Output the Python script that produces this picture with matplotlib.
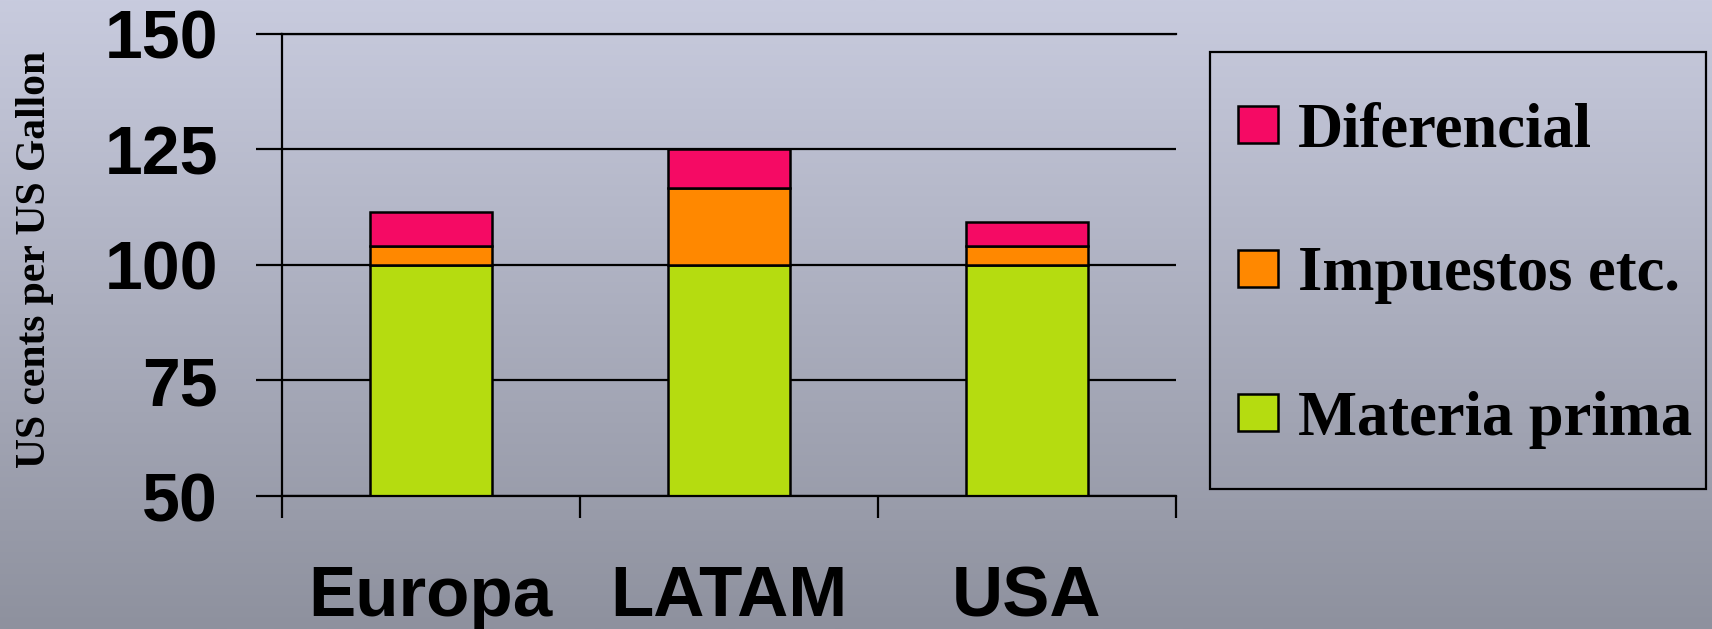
import numpy as np
import matplotlib
matplotlib.use("Agg")
import matplotlib.pyplot as plt
from matplotlib.patches import Rectangle

# Fuel price build-up by region (US cents per US gallon)
regions = ["Europa", "LATAM", "USA"]
materia_prima = [100.0, 100.0, 100.0]
impuestos = [4.0, 16.5, 4.0]
diferencial = [7.5, 8.5, 5.2]
series_labels = ["Materia prima", "Impuestos etc.", "Diferencial"]
series_colors = ["#B5DC10", "#FF8800", "#F50A64"]
y_ticks = [50, 75, 100, 125, 150]

W, H, DPI = 1712, 629, 100
fig = plt.figure(figsize=(W / DPI, H / DPI), dpi=DPI)

# Vertical gradient background
bg = fig.add_axes([0, 0, 1, 1], zorder=-10)
top = np.array([200, 203, 222]) / 255.0
bot = np.array([142, 145, 158]) / 255.0
t = np.linspace(0, 1, 256)[:, None]
grad = (top[None, :] * (1 - t) + bot[None, :] * t)[:, None, :]
bg.imshow(grad, aspect="auto", extent=[0, 1, 0, 1], interpolation="bilinear")
bg.set_axis_off()

# Plot area
x0, x1 = 281.7 / W, 1176 / W
y0, y1 = 1 - 496 / H, 1 - 33.5 / H
ax = fig.add_axes([x0, y0, x1 - x0, y1 - y0])
ax.set_facecolor("none")

centers = np.arange(len(regions)) + 0.5
bw = 0.41
edge = dict(edgecolor="black", linewidth=1.8)
b1 = ax.bar(centers, materia_prima, bw, color=series_colors[0], label=series_labels[0], **edge)
b2 = ax.bar(centers, impuestos, bw, bottom=materia_prima, color=series_colors[1],
            label=series_labels[1], **edge)
bottom3 = np.array(materia_prima) + np.array(impuestos)
b3 = ax.bar(centers, diferencial, bw, bottom=bottom3, color=series_colors[2],
            label=series_labels[2], **edge)

ax.set_xlim(0, len(regions))
ax.set_ylim(50, 150)
ax.set_yticks(y_ticks)
ax.set_yticklabels([str(v) for v in y_ticks])
ax.set_axisbelow(True)
ax.yaxis.grid(True, color="black", linewidth=1.6)

# Category boundaries as major ticks, names on minor ticks at centers
ax.set_xticks(np.arange(len(regions) + 1))
ax.set_xticklabels([])
ax.set_xticks(centers, minor=True)
ax.set_xticklabels(regions, minor=True)
ax.tick_params(axis="x", which="major", direction="out", length=16, width=1.6, color="black")
ax.tick_params(axis="x", which="minor", length=0, pad=50)
ax.tick_params(axis="y", which="major", direction="out", length=19, width=1.6,
               color="black", pad=27)

for lab in ax.get_yticklabels():
    lab.set_fontfamily("Liberation Sans")
    lab.set_fontweight("bold")
    lab.set_fontsize(49)
    lab.set_color("black")
for lab in ax.get_xticklabels(minor=True):
    lab.set_fontfamily("Liberation Sans")
    lab.set_fontweight("bold")
    lab.set_fontsize(51)
    lab.set_color("black")

ax.spines["right"].set_visible(False)
for side in ["left", "bottom", "top"]:
    ax.spines[side].set_linewidth(1.6)
    ax.spines[side].set_color("black")

fig.text(35 / W, 1 - 259 / H, "US cents per US Gallon", rotation=90,
         ha="center", va="center", family="Liberation Serif", weight="bold", size=30)

# Legend with its own frame
lx0, ly0, lx1, ly1 = 1210 / W, 1 - 489 / H, 1706 / W, 1 - 51.5 / H
fig.patches.append(Rectangle((lx0, ly0), lx1 - lx0, ly1 - ly0, transform=fig.transFigure,
                             fill=False, edgecolor="black", linewidth=1.6))
leg = fig.legend([b3, b2, b1], [series_labels[2], series_labels[1], series_labels[0]],
                 loc="center left", bbox_to_anchor=(1237.7 / W, 1 - 275.5 / H),
                 frameon=False, borderpad=0, borderaxespad=0,
                 handlelength=0.64, handleheight=0.53, handletextpad=0.32,
                 labelspacing=1.38,
                 prop=dict(family="Liberation Serif", weight="bold", size=45))

fig.savefig("out.png", dpi=DPI)
